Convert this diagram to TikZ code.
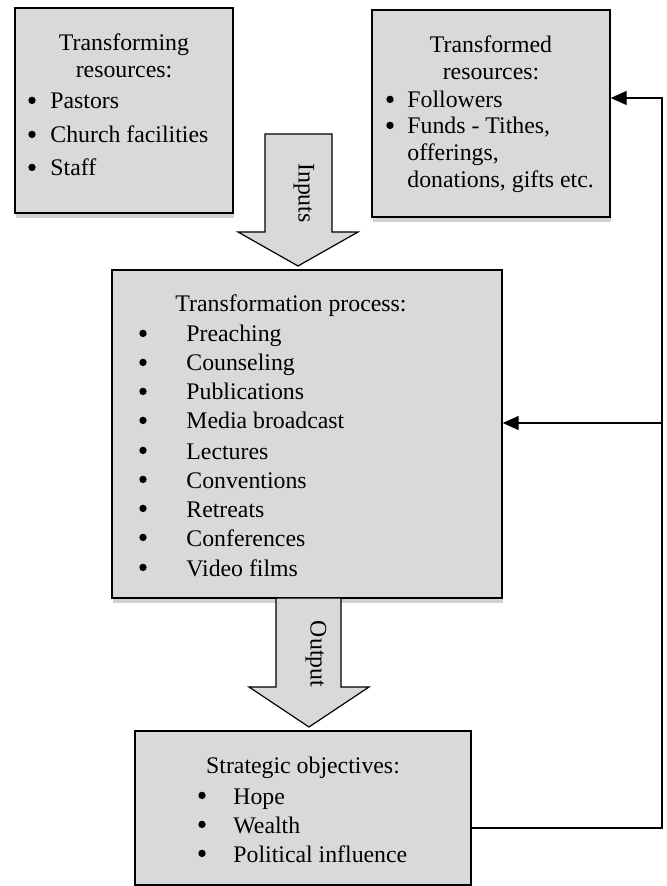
\documentclass[tikz,border=0pt]{standalone}
\usepackage{fontspec}
\setmainfont{Liberation Serif}
\usetikzlibrary{arrows.meta,shadows}
\definecolor{boxgray}{HTML}{D9D9D9}
\definecolor{shadowgray}{HTML}{D2D2D2}
\begin{document}
\begin{tikzpicture}[x=0.5pt,y=-0.5pt,
  box/.style={draw=black, line width=0.7pt, fill=boxgray, inner sep=0pt,
    drop shadow={shadow xshift=0.5pt, shadow yshift=-2.5pt, fill=shadowgray, opacity=1}},
  txt/.style={inner sep=0pt, font=\fontsize{11.9}{14}\selectfont},
  bul/.style={circle, fill=black, inner sep=0pt, minimum size=3.7pt, yshift=4.3pt},
  blockarrow/.style={draw=black, line width=0.6pt, fill=boxgray, line join=miter},
  fb/.style={draw=black, line width=0.7pt, line join=miter, -{Triangle[length=8pt,width=7pt]}}
]
\useasboundingbox (0,0) rectangle (667,886);
\fill[white] (0,0) rectangle (667,886);

% boxes
\node[box, minimum width=109pt, minimum height=102.5pt] (b1) at (124,110.5) {};
\node[box, minimum width=119pt, minimum height=103.5pt] (b2) at (491,113.5) {};
\node[box, minimum width=195pt, minimum height=164pt] (b3) at (307,434) {};
\node[box, minimum width=168pt, minimum height=77pt] (b4) at (303,808) {};

% block arrows
\draw[blockarrow] (265,134) -- (332,134) -- (332,232) -- (358,232) -- (298,266) -- (238,232) -- (265,232) -- cycle;
\node[txt, rotate=-90] (inlab) at (304,193) {Inputs};
\draw[blockarrow] (276,598) -- (341,598) -- (341,687) -- (369,687) -- (309,727) -- (249,687) -- (276,687) -- cycle;
\node[txt, rotate=-90] (outlab) at (316,654) {Output};

% box 1 text
\node[txt, anchor=base] (t1a) at (124,51) {Transforming};
\node[txt, anchor=base] (t1b) at (124,78) {resources:};
\node[bul] (t1c) at (32,109) {};
\node[txt, anchor=base west] (t1d) at (50,109) {Pastors};
\node[bul] (t1e) at (32,143) {};
\node[txt, anchor=base west] (t1f) at (50,143) {Church facilities};
\node[bul] (t1g) at (32,176) {};
\node[txt, anchor=base west] (t1h) at (50,176) {Staff};

% box 2 text
\node[txt, anchor=base] (t2a) at (491,53) {Transformed};
\node[txt, anchor=base] (t2b) at (491,80) {resources:};
\node[bul] (t2c) at (390,108) {};
\node[txt, anchor=base west] (t2d) at (407,108) {Followers};
\node[bul] (t2e) at (390,134) {};
\node[txt, anchor=base west] (t2f) at (407,134) {Funds - Tithes,};
\node[txt, anchor=base west] (t2g) at (407,161) {offerings,};
\node[txt, anchor=base west] (t2h) at (407,188) {donations, gifts etc.};

% box 3 text
\node[txt, anchor=base west] (t3a) at (175,312) {Transformation process:};
\node[bul] (t3b1) at (143,342) {};
\node[txt, anchor=base west] (t3c1) at (186,342) {Preaching};
\node[bul] (t3b2) at (143,371) {};
\node[txt, anchor=base west] (t3c2) at (186,371) {Counseling};
\node[bul] (t3b3) at (143,400) {};
\node[txt, anchor=base west] (t3c3) at (186,400) {Publications};
\node[bul] (t3b4) at (143,429) {};
\node[txt, anchor=base west] (t3c4) at (186,429) {Media broadcast};
\node[bul] (t3b5) at (143,459) {};
\node[txt, anchor=base west] (t3c5) at (186,459) {Lectures};
\node[bul] (t3b6) at (143,488) {};
\node[txt, anchor=base west] (t3c6) at (186,488) {Conventions};
\node[bul] (t3b7) at (143,517) {};
\node[txt, anchor=base west] (t3c7) at (186,517) {Retreats};
\node[bul] (t3b8) at (143,546) {};
\node[txt, anchor=base west] (t3c8) at (186,546) {Conferences};
\node[bul] (t3b9) at (143,576) {};
\node[txt, anchor=base west] (t3c9) at (186,576) {Video films};

% box 4 text
\node[txt, anchor=base] (t4a) at (303,773) {Strategic objectives:};
\node[bul] (t4b1) at (202,804) {};
\node[txt, anchor=base west] (t4c1) at (233,804) {Hope};
\node[bul] (t4b2) at (202,833) {};
\node[txt, anchor=base west] (t4c2) at (233,833) {Wealth};
\node[bul] (t4b3) at (202,862) {};
\node[txt, anchor=base west] (t4c3) at (233,862) {Political influence};

% feedback connectors
\coordinate (r1) at (662,98);
\coordinate (r2) at (662,423);
\coordinate (r3) at (662,828);
\draw[fb] (b4.east |- r3) -- (r3) -- (r1) -- (r1 -| b2.east);
\draw[fb] (r2) -- (r2 -| b3.east);
\end{tikzpicture}
\end{document}
